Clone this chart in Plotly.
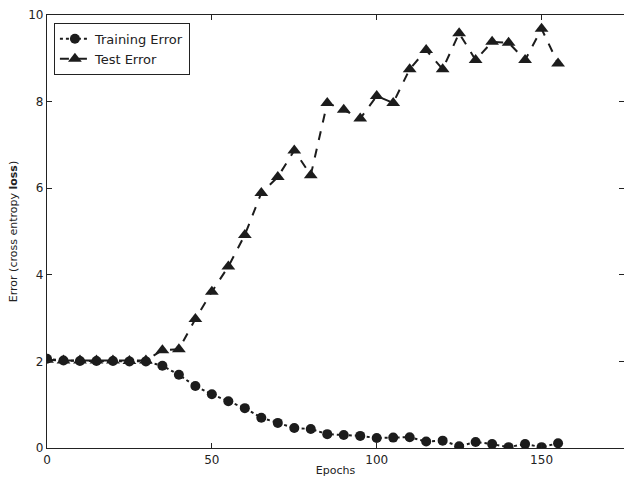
import plotly.graph_objects as go

epochs = list(range(0, 160, 5))
training_error = [2.06, 2.02, 2.01, 2.01, 2.01, 2.0, 2.0, 1.90, 1.69, 1.43, 1.24, 1.08, 0.92, 0.70, 0.58, 0.46,
                  0.44, 0.32, 0.30, 0.28, 0.23, 0.24, 0.25, 0.15, 0.17, 0.04, 0.14, 0.09, 0.02, 0.09, 0.02, 0.11]
test_error = [2.04, 2.02, 2.02, 2.02, 2.02, 2.01, 2.02, 2.26, 2.28, 2.98, 3.61, 4.19, 4.92, 5.89, 6.26, 6.87,
              6.30, 7.97, 7.81, 7.61, 8.13, 7.97, 8.75, 9.19, 8.75, 9.58, 8.96, 9.38, 9.36, 8.96, 9.68, 8.88]
x_ticks = [0, 50, 100, 150]
y_ticks = [0, 2, 4, 6, 8, 10]

ink = "#1c1c1c"
fig = go.Figure()
fig.add_trace(go.Scatter(x=epochs, y=training_error, name="Training Error", mode="lines+markers",
                         line=dict(color=ink, width=2, dash="dot"),
                         marker=dict(symbol="circle", size=10, color=ink)))
fig.add_trace(go.Scatter(x=epochs, y=test_error, name="Test Error", mode="lines+markers",
                         line=dict(color=ink, width=2, dash="dash"),
                         marker=dict(symbol="triangle-up", size=12, color=ink)))

axis_common = dict(showgrid=False, zeroline=False, showline=True, linecolor="#222", linewidth=1.3,
                   mirror="ticks", ticks="inside", ticklen=5, tickcolor="#222", automargin=False,
                   tickfont=dict(family="DejaVu Sans", size=12, color="#222"))
fig.update_xaxes(range=[0, 175], tickvals=x_ticks,
                 title=dict(text="Epochs", font=dict(family="DejaVu Sans", size=11, color="#222"), standoff=2),
                 **axis_common)
fig.update_yaxes(range=[0, 10], tickvals=y_ticks,
                 title=dict(text="Error (cross entropy <b>loss</b>)", font=dict(family="DejaVu Sans", size=11, color="#222"), standoff=8),
                 **axis_common)
fig.update_layout(width=624, height=477, margin=dict(l=47, r=0, t=15, b=29),
                  plot_bgcolor="white", paper_bgcolor="white",
                  font=dict(family="DejaVu Sans", color="#222"),
                  legend=dict(x=0.012, y=0.982, xanchor="left", yanchor="top",
                              bgcolor="white", bordercolor="#222", borderwidth=1,
                              font=dict(family="DejaVu Sans", size=13, color="#222"),
                              tracegroupgap=0, itemwidth=30))
fig.write_html("out.html", config={"displayModeBar": False},
               post_script="document.body.style.margin='0';document.body.style.overflow='hidden';")
